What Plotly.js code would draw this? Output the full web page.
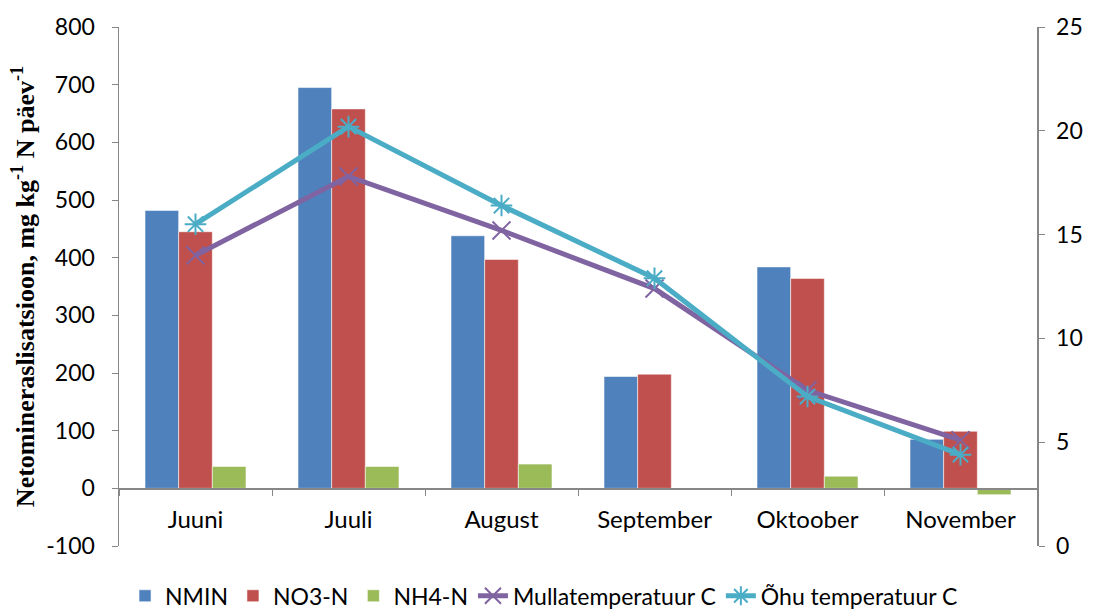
<!DOCTYPE html>
<html>
<head>
<meta charset="utf-8">
<script src="https://cdn.plot.ly/plotly-3.0.1.min.js"></script>
<style>
  html, body { margin: 0; padding: 0; background: #ffffff; }
  #chart { width: 1093px; height: 610px; }
</style>
</head>
<body>
<div id="chart"></div>
<script>
// Months
var months = ['Juuni', 'Juuli', 'August', 'September', 'Oktoober', 'November'];

// Net mineralisation, mg kg-1 N per day (left axis)
var nmin = [482, 695, 438, 194, 384, 85];
var no3n = [445, 658, 397, 198, 364, 99];
var nh4n = [38, 38, 42, -2, 21, -11];

// Temperatures, °C (right axis)
var soilTemp = [14.0, 17.8, 15.2, 12.4, 7.5, 5.1];
var airTemp = [15.5, 20.2, 16.4, 12.9, 7.2, 4.4];

// Tick labels
var leftTicks = [-100, 0, 100, 200, 300, 400, 500, 600, 700, 800];
var rightTicks = [0, 5, 10, 15, 20, 25];

var FONT = 'Lato, "Open Sans", sans-serif';
var AXIS_GREY = '#878787';
var barEdge = { color: 'rgba(255,255,255,0.55)', width: 1 };

var traces = [
  { type: 'bar', name: 'NMIN', x: months, y: nmin, marker: { color: '#4F81BD', line: barEdge } },
  { type: 'bar', name: 'NO3-N', x: months, y: no3n, marker: { color: '#C0504D', line: barEdge } },
  { type: 'bar', name: 'NH4-N', x: months, y: nh4n, marker: { color: '#9BBB59', line: barEdge } },
  {
    type: 'scatter', mode: 'lines+markers', name: 'Mullatemperatuur C',
    x: months, y: soilTemp, yaxis: 'y2',
    line: { color: '#8064A2', width: 5 },
    marker: { symbol: 'x-thin-open', size: 18, color: '#8064A2', line: { color: '#8064A2', width: 2 } }
  },
  {
    type: 'scatter', mode: 'lines+markers', name: 'Õhu temperatuur C',
    x: months, y: airTemp, yaxis: 'y2',
    line: { color: '#4BACC6', width: 5 },
    marker: { symbol: 'asterisk-open', size: 18, color: '#4BACC6', line: { color: '#4BACC6', width: 2 } }
  }
];

var yMin = -100, yMax = 800;
var zeroPos = (0 - yMin) / (yMax - yMin);

var layout = {
  width: 1093,
  height: 610,
  paper_bgcolor: '#ffffff',
  plot_bgcolor: '#ffffff',
  margin: { l: 119, r: 56, t: 27, b: 64, autoexpand: false },
  font: { family: FONT, size: 23, color: '#000000' },
  barmode: 'group',
  bargap: 0.34,
  bargroupgap: 0,
  showlegend: true,
  legend: {
    orientation: 'h',
    x: 0.463, xanchor: 'center',
    y: -0.096, yanchor: 'middle',
    font: { family: FONT, size: 23, color: '#000000' },
    traceorder: 'normal',
    itemwidth: 30
  },
  xaxis: {
    type: 'category',
    anchor: 'free',
    position: zeroPos,
    showline: true,
    linecolor: AXIS_GREY,
    linewidth: 1.5,
    ticks: 'outside',
    tickson: 'boundaries',
    ticklen: 6,
    tickcolor: AXIS_GREY,
    showgrid: false,
    zeroline: false,
    tickfont: { family: FONT, size: 24, color: '#000000' },
    ticklabelstandoff: 9
  },
  yaxis: {
    range: [yMin, yMax],
    tickvals: leftTicks,
    ticktext: leftTicks.map(String),
    showline: true,
    linecolor: AXIS_GREY,
    linewidth: 1.5,
    ticks: 'outside',
    ticklen: 6,
    tickcolor: AXIS_GREY,
    showgrid: false,
    zeroline: false,
    tickfont: { family: FONT, size: 23, color: '#000000' },
    ticklabelstandoff: 12,
    title: {
      text: 'Netomineraslisatsioon, mg kg<sup>-1</sup> N päev<sup>-1</sup>',
      font: { family: '"Liberation Serif", "Times New Roman", serif', size: 26, color: '#000000', weight: 'bold' },
      standoff: 4
    }
  },
  yaxis2: {
    overlaying: 'y',
    side: 'right',
    range: [0, 25],
    tickvals: rightTicks,
    showline: true,
    linecolor: AXIS_GREY,
    linewidth: 1.5,
    ticks: 'outside',
    ticklen: 6,
    tickcolor: AXIS_GREY,
    showgrid: false,
    zeroline: false,
    tickfont: { family: FONT, size: 23, color: '#000000' },
    ticklabelstandoff: 7
  }
};

Plotly.newPlot('chart', traces, layout, { displayModeBar: false, staticPlot: true });
</script>
</body>
</html>
